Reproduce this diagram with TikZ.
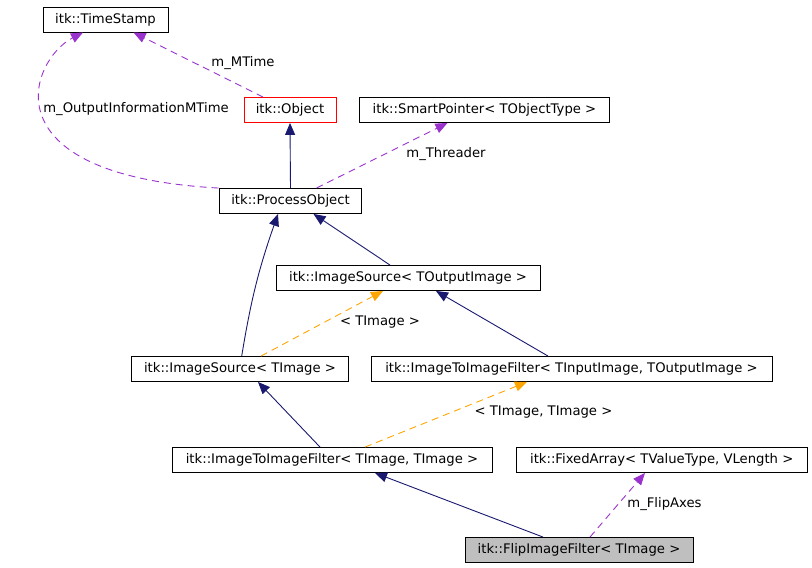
\documentclass[tikz,border=0pt]{standalone}
\usepackage{fontspec}
\setmainfont{DejaVu Sans}
\usetikzlibrary{arrows.meta}

\definecolor{azulhereda}{RGB}{25,25,112}
\definecolor{moradouso}{RGB}{154,50,205}
\definecolor{naranjatpl}{RGB}{255,165,0}
\definecolor{grisclase}{RGB}{191,191,191}

\tikzset{
	clase/.style={draw, line width=0.9pt, inner sep=0pt, minimum height=25pt, font=\fontsize{13.2}{15}\selectfont},
	etiqueta/.style={inner sep=0pt, font=\fontsize{13.2}{15}\selectfont},
	herencia/.style={azulhereda, line width=0.9pt, -{Triangle[length=12pt, width=10pt]}},
	uso/.style={moradouso, line width=0.9pt, dash pattern=on 7pt off 5pt, -{Triangle[length=12pt, width=10pt]}},
	plantilla/.style={naranjatpl, line width=0.9pt, dash pattern=on 7pt off 5pt, -{Triangle[length=12pt, width=10pt]}}
}

\begin{document}
\begin{tikzpicture}[x=1pt, y=-1pt]
	\useasboundingbox (0,0) rectangle (812,568);

	% Clases de arriba
	\node[clase, minimum width=125pt] (ts) at (105.5,19.5) {itk::TimeStamp};
	\node[clase, draw=red, minimum width=92pt] (obj) at (290,110) {itk::Object};
	\node[clase, minimum width=250pt] (sp) at (484.5,110) {itk::SmartPointer< TObjectType >};
	\node[clase, minimum width=142pt] (po) at (290.5,201) {itk::ProcessObject};

	% Fuentes de imagen
	\node[clase, minimum width=264pt] (iso) at (408,278) {itk::ImageSource< TOutputImage >};
	\node[clase, minimum width=217pt] (is) at (240,369) {itk::ImageSource< TImage >};
	\node[clase, minimum width=401pt] (itifio) at (571.5,369) {itk::ImageToImageFilter< TInputImage, TOutputImage >};

	% Filtros de abajo
	\node[clase, minimum width=320pt] (itiftt) at (332,460) {itk::ImageToImageFilter< TImage, TImage >};
	\node[clase, minimum width=291pt] (fa) at (661.7,460) {itk::FixedArray< TValueType, VLength >};
	\node[clase, fill=grisclase, minimum width=228pt] (flip) at (579,550) {itk::FlipImageFilter< TImage >};

	% Herencia
	\draw[herencia] (po.north) -- (obj.south);
	\draw[herencia] ([xshift=-18pt]iso.north) -- ([xshift=23pt]po.south);
	\draw[herencia] ([xshift=1.7pt]is.north) to[bend left=5] ([xshift=-12.5pt]po.south);
	\draw[herencia] ([xshift=-23.5pt]itifio.north) -- ([xshift=28pt]iso.south);
	\draw[herencia] ([xshift=-12pt]itiftt.north) -- ([xshift=18pt]is.south);
	\draw[herencia] ([xshift=-36pt]flip.north) -- ([xshift=43pt]itiftt.south);

	% Plantillas
	\draw[plantilla] ([xshift=21pt]is.north) -- ([xshift=-25pt]iso.south);
	\node[etiqueta] (ltpl) at (380,322) {< TImage >};
	\draw[plantilla] ([xshift=33pt]itiftt.north) -- ([xshift=-44.5pt]itifio.south);
	\node[etiqueta] (ltpl2) at (543.5,412) {< TImage, TImage >};

	% Miembros usados
	\draw[uso] ([xshift=-27pt]obj.north) -- ([xshift=28pt]ts.south);
	\node[etiqueta] (lmt) at (243,63) {m\_MTime};
	\draw[uso] ([xshift=-72pt]po.north) .. controls (-15,175) and (30,60) .. ([xshift=-22.5pt]ts.south);
	\node[etiqueta] (loim) at (136,109) {m\_OutputInformationMTime};
	\draw[uso] ([xshift=26pt]po.north) -- ([xshift=-37pt]sp.south);
	\node[etiqueta] (lthr) at (446,154) {m\_Threader};
	\draw[uso] ([xshift=11pt]flip.north) -- ([xshift=-16.7pt]fa.south);
	\node[etiqueta] (lfa) at (664.5,504) {m\_FlipAxes};

\end{tikzpicture}
\end{document}
